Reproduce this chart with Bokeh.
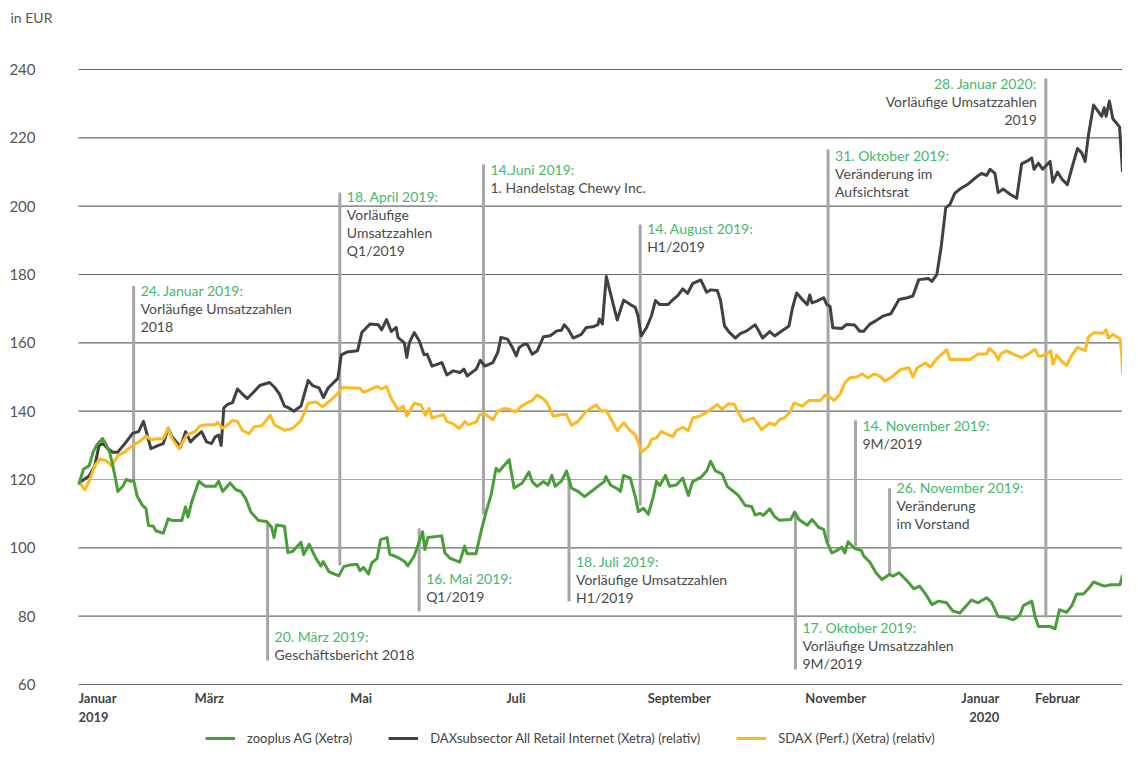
from bokeh.plotting import figure
from bokeh.models import Range1d, Legend, LegendItem
from bokeh.core.properties import value
from bokeh.embed import file_html
from bokeh.resources import INLINE

# ---------------- data (x = days since 1 January 2019) ----------------
zoo_days = [0.8, 2.7, 5, 6.6, 8, 10.4, 12, 13.3, 14.6, 16, 16.6, 18.6, 20, 22, 23, 24.5, 26.5, 28, 29, 31, 32, 34, 35,
            37, 38.5, 42.5, 44, 45, 46.5, 49.4, 52, 56, 57.4, 59, 62, 64.4, 66.4, 68.4, 70.4, 73.5, 76.8, 78.8, 79.8,
            80.8, 84, 85.4, 87.4, 90.7, 91.8, 94, 96.7, 98.7, 99.7, 102, 106, 108, 110.6, 113.3, 114.6, 116, 118,
            119.3, 121.5, 122.9, 125.5, 126.6, 128.6, 130.6, 132.6, 133.9, 136.5, 139.9, 140.8, 142, 147.6, 148.9,
            150.9, 154.9, 156.9, 157.9, 161.5, 163.6, 165.6, 167.6, 169.6, 170.9, 172.5, 174.9, 176.9, 180.2, 182.9,
            184.2, 186.2, 188.8, 190.6, 192.2, 193.5, 196.1, 198.1, 200.1, 202.8, 205.4, 208.1, 210.8, 213.4, 214,
            215.9, 218.6, 219.9, 221.2, 223.9, 225.9, 227.2, 229.2, 231.2, 233.2, 234.5, 235.8, 238.1, 239.8, 242.5,
            245.1, 247.4, 249.1, 252.4, 254.8, 256.4, 258.4, 261.1, 263.1, 265.7, 267.7, 270.4, 273, 274.4, 276.4,
            277.7, 280.3, 282.3, 284.3, 288.8, 290.4, 292.1, 295.5, 297.4, 300.1, 302.1, 303.4, 305.4, 307.4, 309.4,
            310.7, 312, 314.7, 317.4, 318.3, 320.7, 323.3, 325.7, 328.7, 330.2, 332.6, 336, 338.6, 340.9, 343.5,
            345.9, 348.6, 351.9, 354.2, 357.2, 361.9, 364.6, 368, 370, 372.7, 375.4, 378.8, 381.5, 382.9, 386.3,
            387.6, 389, 393.7, 395.7, 397.5, 400.4, 402.5, 404.5, 407.2, 409.2, 411.3, 414, 416, 418, 422, 423]
zoo_vals = [118.5, 123, 124, 128, 130, 132, 130, 128, 124, 119, 116.5, 118, 120, 119.5, 119.7, 115, 112.5, 111.5,
            106.5, 106.3, 105, 104.5, 104.3, 108.5, 108, 108, 112, 109, 113.5, 119.5, 118, 118, 119.5, 116.5, 119,
            117, 116.5, 114.3, 110.5, 108, 107.7, 106, 103, 106.7, 106.3, 98.6, 99, 101.6, 98, 101, 97, 94.7, 96,
            93, 91.8, 94.5, 95, 95.2, 93.3, 94.3, 92.3, 95.5, 96.9, 102.4, 103, 98.1, 97.6, 96.9, 96, 94.7, 97.6,
            104.7, 99.5, 103, 103.5, 98.5, 97, 95.8, 100.5, 98.3, 98.3, 105, 110.6, 115.5, 123.3, 122.4, 123.8,
            125.8, 117.5, 119, 122.2, 119.4, 118, 119.4, 118.4, 121.2, 118, 119.6, 122.5, 117.5, 116.5, 115, 116.5,
            118, 119.4, 120.9, 118.4, 117.3, 116.5, 121.2, 120.4, 115, 110.6, 111.6, 109.8, 115, 119.4, 118.2,
            121.2, 118, 118.4, 120.4, 115.3, 119.4, 120.6, 122.5, 125.3, 122.5, 121.6, 118, 116.5, 115.3, 112.4,
            112.1, 109.6, 110.1, 109.5, 111.4, 109.1, 108.1, 108.3, 110.5, 108.3, 106.6, 108.3, 106, 105.4, 101.8,
            98.5, 99.2, 100.2, 98.5, 101.8, 99.8, 99.2, 97.6, 95.9, 92.7, 90.7, 92.2, 91.7, 92.7, 90.2, 88, 88.8,
            86.3, 83.4, 84.4, 83.9, 81.6, 80.9, 84.7, 83.9, 85.4, 84.1, 79.9, 79.7, 78.9, 80.4, 83.1, 84.4, 79.9, 77,
            77, 76.3, 81.9, 81.1, 83.1, 86.5, 86.5, 88, 90, 89.2, 88.8, 89.2, 89.2, 92]

dax_days = [0.8, 5, 7.3, 9, 10.6, 12.6, 14.6, 16.6, 20, 22.6, 25, 27, 30, 33, 35, 37, 38.5, 42, 44, 46, 48, 50.5,
            52.5, 54.5, 56, 57.4, 58.4, 59.5, 61, 63, 65, 67, 69, 71.7, 74, 78, 80, 82, 84, 85.7, 87.8, 90.7, 93.6,
            95.4, 98, 99.8, 101.6, 105.6, 107, 109.3, 113.6, 115.3, 118.6, 122, 123.3, 125.3, 127.2, 129.2, 130,
            132.5, 133.5, 134.5, 136.5, 138.5, 140.5, 141.7, 143.7, 147.7, 149.7, 152.3, 155, 156.6, 157.9, 161.6,
            163.2, 165, 168.3, 170.3, 171.6, 174.2, 176.2, 177.8, 178.9, 180.9, 182.2, 184.2, 186.2, 188.8, 191.5,
            194.2, 196.1, 197.2, 198.8, 200.8, 204.1, 206.1, 208.8, 210.8, 211.4, 212.6, 214.2, 216.3, 218.6, 221.2,
            223.9, 225.9, 227, 228.3, 230.5, 232.5, 234.1, 235.8, 239.2, 240.8, 243.1, 245.1, 247.1, 249.1, 252.4,
            254.8, 256.4, 259.1, 260.4, 262, 263.7, 266.4, 268.4, 271, 274.4, 275.7, 277.4, 280.3, 282.3, 284.3,
            288.1, 289.5, 291.2, 294.1, 295.5, 296.5, 297.4, 299.4, 302.1, 303.4, 304.7, 305.8, 309.4, 311.4, 314.7,
            316.7, 318.3, 320.7, 323.3, 326, 329.3, 332.6, 336, 338.2, 340.6, 344.6, 345.9, 347.9, 349.6, 351.5,
            353.2, 355.2, 357.2, 360.6, 364, 366, 368, 369.4, 371.4, 372.7, 374.8, 377.5, 380.2, 382.2, 384.2, 386.3,
            387.2, 389, 390.7, 393.7, 394.8, 396.7, 398.4, 400.7, 402.5, 404.8, 406.5, 407.9, 409.2, 411.3, 414.6,
            415.6, 416.4, 417.7, 419.1, 421.8, 422.7, 423]
dax_vals = [119, 121, 124, 130, 130.5, 129, 128, 128, 131, 133.5, 134, 137, 129, 130, 130.5, 135, 132.5, 129.5, 134,
            131, 132.5, 134, 131, 130.5, 132.5, 133, 130, 141, 142, 142.5, 146.5, 145, 143.7, 145.7, 147.5, 148.4, 147,
            145, 141.5, 141, 140, 141.5, 149, 147.5, 146.8, 144, 146.7, 149.6, 156.5, 157.3, 157.7, 163, 165.5, 165.3,
            163.8, 166.8, 163.3, 164.5, 161.5, 160, 155.7, 160, 163, 160.6, 156.5, 156.7, 153.2, 154.2, 150.6, 151.8,
            151.3, 152.3, 150.3, 152.3, 154.9, 153.2, 154.2, 157.2, 161.6, 161.1, 158.6, 156.2, 158.6, 159.6, 159.6,
            156.7, 157.6, 161.8, 162.1, 163.5, 163.7, 165.3, 164, 161.4, 162.5, 164.5, 164.7, 165.3, 167, 165.5,
            179.4, 173.3, 166.7, 172.5, 171.2, 170.4, 168, 162, 164.5, 168, 172.4, 171.2, 171.2, 172.4, 173.8, 175.8,
            174.5, 177.3, 178.4, 174.8, 175.5, 175.3, 172.4, 165, 163.3, 161.4, 162.7, 163.5, 165.3, 163.7, 161.4,
            163.3, 162, 163, 164.9, 170.2, 174.6, 172.2, 171.2, 174, 171.7, 172.2, 173.2, 171.2, 170.7, 164.4, 164.2,
            165.4, 165.2, 163.4, 163.4, 165.4, 166.5, 167.8, 168.5, 172.7, 173.2, 173.7, 178.5, 178.8, 178, 180,
            187.8, 199.5, 200.5, 203.8, 205, 206.5, 208.6, 209.6, 209, 210.8, 209.6, 204, 205, 203.5, 202.3, 212.4,
            213.1, 214.1, 210.8, 212.6, 210.8, 213.1, 207, 210, 208, 206.3, 211.1, 216.9, 215.6, 213.1, 220.7, 229.6,
            226.3, 228.8, 226.3, 230.8, 225.6, 223.2, 213.6, 210]

sdax_days = [0.8, 3.3, 5.3, 7.3, 9.3, 12, 14, 16.6, 19.3, 22.6, 25.2, 28, 30, 35, 37, 38.5, 41.4, 44.5, 47.8, 49.8,
             52.5, 56, 57, 59, 61, 63, 65, 67, 69.7, 71.7, 74.8, 78.3, 80, 84, 87.4, 90.7, 93.6, 96.7, 99.4, 102.7,
             105.6, 107.3, 114.6, 116, 121.3, 123.3, 125.3, 127.2, 130, 132, 133.5, 136.5, 139.2, 141, 142.5, 143.7,
             148.3, 149.7, 152.3, 154.7, 157, 158.3, 161.6, 163, 165, 168.3, 170.3, 173, 175, 177.6, 179.5, 182.2,
             184.2, 186.2, 188.2, 190.2, 192.8, 196.1, 198.1, 200.1, 202.8, 206.1, 210.1, 212.1, 214.2, 216.6, 218.6,
             221.2, 223.9, 225.9, 227.2, 228.5, 231.2, 232.5, 234.5, 236.5, 239.2, 241.2, 242.5, 245.1, 247.4, 249.1,
             251.8, 254.4, 256.4, 259.1, 261, 263.7, 266, 267.3, 269.7, 273.7, 277, 280.3, 282.3, 284.3, 286.2,
             288.8, 290.1, 293.5, 296.1, 300.8, 302.8, 304.7, 306.3, 308.7, 310.7, 312.7, 315.4, 317.8, 320, 322.7,
             325, 326.7, 329.3, 333.3, 336.6, 338.2, 340, 343.3, 345.3, 347.9, 350.6, 351.9, 353.2, 355.2, 361.3,
             364.6, 368, 369.1, 371.4, 372.7, 373.7, 375.9, 378.8, 382.2, 384.9, 387.6, 389, 391.7, 394, 394.8, 396.4,
             398.4, 400.4, 402.5, 404.8, 407.9, 409.2, 411.5, 415, 416.4, 417.3, 419.1, 422, 422.7, 423]
sdax_vals = [119.4, 117, 120, 124, 126, 125.5, 124, 127, 128, 130, 131, 132.7, 131.7, 132, 135, 132, 129, 133, 134,
             135.7, 136, 136, 136.7, 135, 136, 137.3, 137, 134.4, 133.4, 135.4, 135.7, 138.8, 136, 134.4, 135, 137.3,
             142.3, 142.7, 141.3, 143.2, 145.2, 146.9, 146.7, 145.5, 147.2, 146.5, 147.2, 143.7, 140.3, 141.5, 138.6,
             142.3, 141.8, 138.8, 140.8, 138, 139, 137, 136.3, 134.9, 137, 136, 136.9, 139, 139.2, 137.5, 140, 140.8,
             140.5, 139.8, 141.2, 142.5, 143.1, 144.7, 143.9, 142.5, 138.5, 139, 139, 135.9, 137, 140, 141.8, 140,
             140.2, 137, 134.3, 136.6, 134.3, 133.1, 130.7, 128, 129.7, 131.7, 132.2, 134.1, 133.1, 132.6, 134.3,
             135.3, 134.3, 138, 138.5, 139.5, 140.5, 142, 140.5, 142.2, 142, 140, 137, 138, 134.6, 136.6, 135.9, 137.6,
             138, 140, 142.4, 141.5, 143.1, 143.1, 144.7, 144.1, 143.1, 144.9, 148.3, 149.8, 150, 150.9, 149.8, 150.9,
             150.2, 148.8, 149.8, 152.2, 152.7, 150, 152.7, 154.1, 152.9, 155.4, 157.1, 158, 155.1, 155.2, 155.1,
             156.7, 156.7, 158.4, 156.9, 155.1, 156.7, 157.7, 156.7, 155.7, 156.7, 158.1, 156.1, 156.4, 157.7, 153.8,
             156.4, 154.6, 153.3, 156.4, 158.7, 157.7, 161.7, 163, 162.8, 163.8, 161.4, 162.5, 161.1, 156.4, 151]

series_names = ["zooplus AG (Xetra)", "DAXsubsector All Retail Internet (Xetra) (relativ)",
                "SDAX (Perf.) (Xetra) (relativ)"]

y_ticks = [60, 80, 100, 120, 140, 160, 180, 200, 220, 240]
y_tick_labels = [str(v) for v in y_ticks]
month_days = [0.7, 53.6, 115, 177.6, 243.7, 307, 373.2, 396.7]
month_labels = ["Januar", "März", "Mai", "Juli", "September", "November", "Januar", "Februar"]
month_align = ["left", "center", "center", "center", "center", "center", "right", "center"]
year_days = [0.7, 373.2]
year_labels = ["2019", "2020"]
year_align = ["left", "right"]

# event annotations
ann_days = [23, 77.2, 106.4, 138.5, 164.5, 199.1, 227.9, 290.7, 303.9, 315, 328.8, 392]
ann_tops = [176.6, 107.4, 204.0, 105.7, 212.2, 120.6, 194.6, 110.3, 216.6, 137.3, 117.4, 237.4]
ann_bottoms = [120, 67, 94.8, 81.4, 109.8, 84.3, 112.4, 64.4, 101.6, 100.4, 92.2, 79.6]
ann_text_y = [175.3, 74.1, 202.8, 91.0, 210.7, 96.0, 193.5, 76.7, 214.8, 135.8, 117.7, 235.9]
ann_titles = ["24. Januar 2019:", "20. März 2019:", "18. April 2019:", "16. Mai 2019:", "14.Juni 2019:",
              "18. Juli 2019:", "14. August 2019:", "17. Oktober 2019:", "31. Oktober 2019:",
              "14. November 2019:", "26. November 2019:", "28. Januar 2020:"]
ann_bodies = [["Vorläufige Umsatzzahlen", "2018"], ["Geschäftsbericht 2018"],
              ["Vorläufige", "Umsatzzahlen", "Q1/2019"], ["Q1/2019"], ["1. Handelstag Chewy Inc."],
              ["Vorläufige Umsatzzahlen", "H1/2019"], ["H1/2019"], ["Vorläufige Umsatzzahlen", "9M/2019"],
              ["Veränderung im", "Aufsichtsrat"], ["9M/2019"], ["Veränderung", "im Vorstand"],
              ["Vorläufige Umsatzzahlen", "2019"]]
ann_right = [False] * 11 + [True]

# ---------------- layout & styling ----------------
GREEN = "#4a9e3a"
DARK = "#414141"
YELLOW = "#fbba22"
TXT_GREEN = "#45b86c"
TXT = "#4a4a4a"
FONT = "Lato"

W, H = 1122, 747
PLOT_LEFT, PLOT_TOP, PLOT_BOTTOM = 78, 69, 684      # pixel frame of the value area inside the figure
X0, X1 = 0.7, 423.0
Y0, Y1 = 60, 240
px_per_day = (W - PLOT_LEFT) / (X1 - X0)
px_per_unit = (PLOT_BOTTOM - PLOT_TOP) / (Y1 - Y0)
u = 1 / px_per_unit                                   # value units per pixel

p = figure(width=W, height=H, output_backend="svg", toolbar_location=None,
           x_range=Range1d(X0 - PLOT_LEFT / px_per_day, X1),
           y_range=Range1d(Y0 - (H - PLOT_BOTTOM) * u, Y1 + PLOT_TOP * u),
           x_axis_location=None, y_axis_location=None,
           min_border_left=0, min_border_right=0, min_border_top=0, min_border_bottom=0)
p.outline_line_color = None
p.background_fill_color = "white"
p.border_fill_color = "white"
p.grid.grid_line_color = None

# horizontal grid lines
grid_colors = ["#a8a8a8" if v == 120 else "#6a6a6a" for v in y_ticks]
p.segment(x0=[X0] * len(y_ticks), x1=[X1] * len(y_ticks), y0=y_ticks, y1=y_ticks,
          line_color=grid_colors, line_width=1.2)

# y tick labels
p.text(x=[X0] * len(y_ticks), y=y_ticks, text=y_tick_labels, x_offset=-43, text_align="right",
       text_baseline="middle", text_font=value(FONT), text_font_size="15px", text_color="#555555")

# month labels
p.text(x=month_days, y=[Y0 - 13 * u] * len(month_days), text=month_labels, text_align=month_align,
       text_baseline="middle", text_font=value(FONT), text_font_style="bold", text_font_size="13px",
       text_color="#444444")
p.text(x=year_days, y=[Y0 - 32 * u] * len(year_days), text=year_labels, text_align=year_align,
       text_baseline="middle", text_font=value(FONT), text_font_style="bold", text_font_size="13px",
       text_color="#444444")

# unit label
p.text(x=[X0], y=[Y1 + 52 * u], text=["in EUR"], x_offset=-68, text_align="left", text_baseline="middle",
       text_font=value(FONT), text_font_size="14px", text_color="#555555")

# annotation vertical lines
p.segment(x0=ann_days, y0=ann_bottoms, x1=ann_days, y1=ann_tops, line_color="#a6a6a6", line_width=3)

# series
r_dax = p.line(dax_days, dax_vals, line_color=DARK, line_width=3, line_join="round")
r_sdax = p.line(sdax_days, sdax_vals, line_color=YELLOW, line_width=3, line_join="round")
r_zoo = p.line(zoo_days, zoo_vals, line_color=GREEN, line_width=3, line_join="round")

# annotation texts
LINE_GAP = 18 * u
for d, ty, title, body, right in zip(ann_days, ann_text_y, ann_titles, ann_bodies, ann_right):
    lines = [title] + body
    colors = [TXT_GREEN] + [TXT] * len(body)
    ys = [ty - i * LINE_GAP for i in range(len(lines))]
    p.text(x=[d] * len(lines), y=ys, text=lines, text_color=colors,
           text_font=value(FONT), text_font_size="14px", text_baseline="middle",
           text_align="right" if right else "left", x_offset=-9 if right else 7)

# legend at the bottom
legend = Legend(items=[LegendItem(label=series_names[0], renderers=[r_zoo]),
                       LegendItem(label=series_names[1], renderers=[r_dax]),
                       LegendItem(label=series_names[2], renderers=[r_sdax])],
                orientation="horizontal", location=(205, 1), padding=0, margin=0, spacing=36,
                glyph_width=30, glyph_height=14, label_height=14, label_standoff=12,
                label_text_font=FONT, label_text_font_size="13px", label_text_color="#444444",
                border_line_color=None, background_fill_alpha=0)
p.add_layout(legend)

open("out.html", "w").write(file_html(p, INLINE))
